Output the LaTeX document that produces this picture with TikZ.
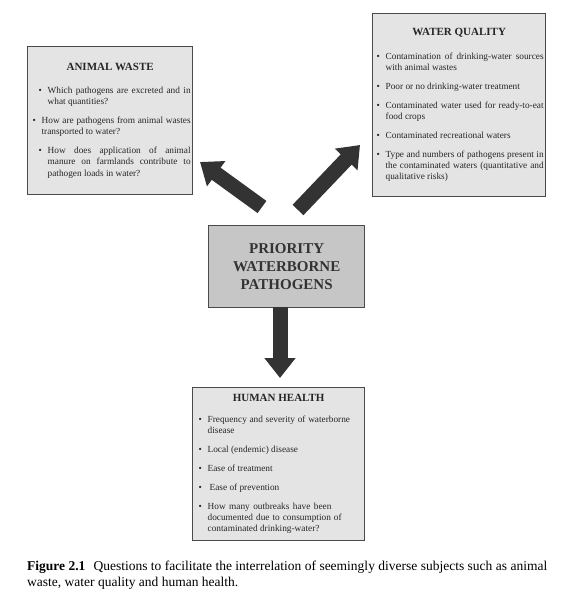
\documentclass[tikz,border=0pt]{standalone}
\usepackage{fontspec}
\setmainfont{Liberation Serif}
\usetikzlibrary{arrows.meta, positioning}

\definecolor{boxgray}{HTML}{E4E4E4}
\definecolor{coregray}{HTML}{C6C6C6}
\definecolor{inkgray}{HTML}{333333}
\definecolor{framegray}{HTML}{4A4A4A}

\tikzstyle{question-box}=[
draw=framegray,
line width=1.3pt,
fill=boxgray,
anchor=north west,
inner xsep=2pt,
inner ysep=4pt,
text=black!85,
font=\fontsize{9.3}{11.3}\selectfont\setlength{\parskip}{7.5pt},
]
\tikzstyle{priority-box}=[
draw=framegray,
line width=1.3pt,
fill=coregray,
anchor=north west,
align=center,
text=inkgray,
font=\fontsize{15}{18}\selectfont\bfseries,
]
\tikzstyle{fat-arrow}=[
draw=inkgray,
line width=15pt,
-{Triangle[width=30pt,length=20pt]},
]

\newcommand{\qleftskip}{0pt}
\newcommand{\qtitle}[2]{{\centering\fontsize{11}{12}\selectfont\bfseries #1\par}\vspace{#2}}
\newcommand{\qitem}[1]{\leftskip=\qleftskip\relax\hangindent=9pt\hangafter=1\hyphenpenalty=10000\relax\noindent\makebox[9pt][l]{\textbullet}#1\par}

\begin{document}
\begin{tikzpicture}[x=1pt, y=-1pt]
        \useasboundingbox (0,0) rectangle (564,600);

        % the three question boxes
        \node[question-box, align=justify, text width=161pt, minimum height=148pt] (waste) at (27,46) {%
          \renewcommand{\qleftskip}{9pt}%
          \qtitle{ANIMAL WASTE}{4pt}
          \qitem{Which pathogens are excreted and in what quantities?}
          \renewcommand{\qleftskip}{3pt}%
          \qitem{How are pathogens from animal wastes transported to water?}
          \renewcommand{\qleftskip}{9pt}%
          \qitem{How does application of animal manure on farmlands contribute to pathogen loads in water?}
        };
        \node[question-box, align=justify, text width=169pt, minimum height=183pt] (water) at (372,13) {%
          \renewcommand{\qleftskip}{2pt}%
          \qtitle{WATER QUALITY}{5pt}
          \qitem{Contamination of drinking-water sources with animal wastes}
          \qitem{Poor or no drinking-water treatment}
          \qitem{Contaminated water used for ready-to-eat food crops}
          \qitem{Contaminated recreational waters}
          \qitem{Type and numbers of pathogens present in the contaminated waters (quantitative and qualitative risks)}
        };
        \node[question-box, align=justify, inner xsep=6pt, text width=160pt, minimum height=153pt] (health) at (192,387) {%
          \rightskip=0pt plus 3em\relax
          \qtitle{HUMAN HEALTH}{2pt}
          \qitem{Frequency and severity of waterborne disease}
          \qitem{Local (endemic) disease}
          \qitem{Ease of treatment}
          \qitem{\hspace{2pt}Ease of prevention}
          \qitem{How many outbreaks have been documented due to consumption of contaminated drinking-water?}
        };

        % centre
        \node[priority-box, minimum width=156pt, minimum height=82pt] (prio) at (208,225)
          {PRIORITY\\WATERBORNE\\PATHOGENS};

        \coordinate (waste-tail) at (262,207);
        \coordinate (waste-tip) at (200,162);
        \coordinate (water-tail) at (298,210);
        \coordinate (water-tip) at (360,145);
        \coordinate (health-tail) at (280,307);
        \coordinate (health-tip) at (280,378);

        \draw[fat-arrow] (waste-tail) -- (waste-tip);
        \draw[fat-arrow] (water-tail) -- (water-tip);
        \draw[fat-arrow] (health-tail) -- (health-tip);

        % caption
        \node[anchor=north west, text width=520pt, align=justify, inner sep=0pt,
          font=\fontsize{13.5}{15.5}\selectfont] (caption) at (27,561)
          {\textbf{Figure 2.1}\hspace{0.6em}Questions to facilitate the interrelation of seemingly diverse subjects such as animal waste, water quality and human health.};
      \end{tikzpicture}
\end{document}
